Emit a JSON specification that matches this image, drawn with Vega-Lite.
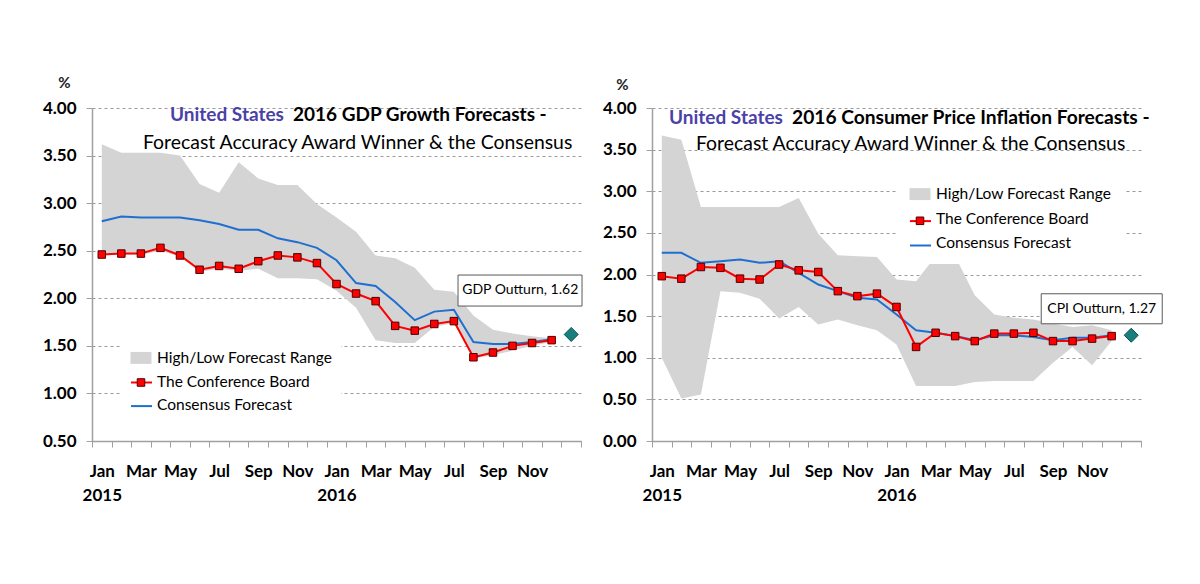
{
  "$schema": "https://vega.github.io/schema/vega-lite/v6.json",
  "background": "white",
  "padding": {"left": 42, "top": 75, "right": 0, "bottom": 0},
  "autosize": {"type": "pad"},
  "spacing": 17,
  "resolve": {"scale": {"fill": "independent", "stroke": "independent", "color": "independent"}},
  "config": {
    "view": {"stroke": null},
    "font": "Lato",
    "title": {"font": "Lato", "anchor": "start", "frame": "group", "offset": 0, "baseline": "middle", "color": "#000000"}
  },
  "datasets": {
    "gdp": [
      {"m": "2015-01", "tcb": 2.46, "cons": 2.81, "hi": 3.62, "lo": 2.45},
      {"m": "2015-02", "tcb": 2.47, "cons": 2.86, "hi": 3.53, "lo": 2.46},
      {"m": "2015-03", "tcb": 2.47, "cons": 2.85, "hi": 3.53, "lo": 2.46},
      {"m": "2015-04", "tcb": 2.53, "cons": 2.85, "hi": 3.53, "lo": 2.50},
      {"m": "2015-05", "tcb": 2.45, "cons": 2.85, "hi": 3.50, "lo": 2.44},
      {"m": "2015-06", "tcb": 2.30, "cons": 2.82, "hi": 3.20, "lo": 2.28},
      {"m": "2015-07", "tcb": 2.34, "cons": 2.78, "hi": 3.11, "lo": 2.31},
      {"m": "2015-08", "tcb": 2.31, "cons": 2.72, "hi": 3.43, "lo": 2.29},
      {"m": "2015-09", "tcb": 2.39, "cons": 2.72, "hi": 3.26, "lo": 2.31},
      {"m": "2015-10", "tcb": 2.45, "cons": 2.63, "hi": 3.19, "lo": 2.21},
      {"m": "2015-11", "tcb": 2.43, "cons": 2.59, "hi": 3.19, "lo": 2.21},
      {"m": "2015-12", "tcb": 2.37, "cons": 2.53, "hi": 2.99, "lo": 2.20},
      {"m": "2016-01", "tcb": 2.15, "cons": 2.40, "hi": 2.85, "lo": 2.08},
      {"m": "2016-02", "tcb": 2.05, "cons": 2.16, "hi": 2.70, "lo": 1.90},
      {"m": "2016-03", "tcb": 1.97, "cons": 2.13, "hi": 2.45, "lo": 1.56},
      {"m": "2016-04", "tcb": 1.71, "cons": 1.96, "hi": 2.42, "lo": 1.53},
      {"m": "2016-05", "tcb": 1.66, "cons": 1.77, "hi": 2.32, "lo": 1.53},
      {"m": "2016-06", "tcb": 1.73, "cons": 1.86, "hi": 2.09, "lo": 1.70},
      {"m": "2016-07", "tcb": 1.76, "cons": 1.88, "hi": 2.07, "lo": 1.74},
      {"m": "2016-08", "tcb": 1.38, "cons": 1.54, "hi": 1.82, "lo": 1.37},
      {"m": "2016-09", "tcb": 1.43, "cons": 1.52, "hi": 1.67, "lo": 1.40},
      {"m": "2016-10", "tcb": 1.50, "cons": 1.52, "hi": 1.63, "lo": 1.45},
      {"m": "2016-11", "tcb": 1.53, "cons": 1.54, "hi": 1.60, "lo": 1.50},
      {"m": "2016-12", "tcb": 1.56, "cons": 1.57, "hi": 1.58, "lo": 1.54}
    ],
    "gdpOut": [{"m": "Outturn", "v": 1.62, "label": "GDP Outturn, 1.62"}],
    "cpi": [
      {"m": "2015-01", "tcb": 1.98, "cons": 2.26, "hi": 3.67, "lo": 1.00},
      {"m": "2015-02", "tcb": 1.95, "cons": 2.26, "hi": 3.62, "lo": 0.51},
      {"m": "2015-03", "tcb": 2.09, "cons": 2.14, "hi": 2.81, "lo": 0.56},
      {"m": "2015-04", "tcb": 2.08, "cons": 2.16, "hi": 2.81, "lo": 1.80},
      {"m": "2015-05", "tcb": 1.95, "cons": 2.18, "hi": 2.81, "lo": 1.78},
      {"m": "2015-06", "tcb": 1.94, "cons": 2.14, "hi": 2.81, "lo": 1.71},
      {"m": "2015-07", "tcb": 2.12, "cons": 2.16, "hi": 2.81, "lo": 1.47},
      {"m": "2015-08", "tcb": 2.05, "cons": 2.02, "hi": 2.92, "lo": 1.61},
      {"m": "2015-09", "tcb": 2.03, "cons": 1.88, "hi": 2.49, "lo": 1.40},
      {"m": "2015-10", "tcb": 1.80, "cons": 1.80, "hi": 2.23, "lo": 1.46},
      {"m": "2015-11", "tcb": 1.74, "cons": 1.72, "hi": 2.22, "lo": 1.39},
      {"m": "2015-12", "tcb": 1.77, "cons": 1.70, "hi": 2.21, "lo": 1.33},
      {"m": "2016-01", "tcb": 1.61, "cons": 1.52, "hi": 1.94, "lo": 1.16},
      {"m": "2016-02", "tcb": 1.13, "cons": 1.33, "hi": 1.92, "lo": 0.66},
      {"m": "2016-03", "tcb": 1.30, "cons": 1.30, "hi": 2.22, "lo": 0.66},
      {"m": "2016-04", "tcb": 1.26, "cons": 1.26, "hi": 2.22, "lo": 0.66},
      {"m": "2016-05", "tcb": 1.20, "cons": 1.21, "hi": 1.75, "lo": 0.71},
      {"m": "2016-06", "tcb": 1.29, "cons": 1.27, "hi": 1.52, "lo": 0.72},
      {"m": "2016-07", "tcb": 1.29, "cons": 1.27, "hi": 1.48, "lo": 0.72},
      {"m": "2016-08", "tcb": 1.30, "cons": 1.25, "hi": 1.46, "lo": 0.72},
      {"m": "2016-09", "tcb": 1.20, "cons": 1.21, "hi": 1.41, "lo": 0.94},
      {"m": "2016-10", "tcb": 1.20, "cons": 1.24, "hi": 1.37, "lo": 1.13},
      {"m": "2016-11", "tcb": 1.23, "cons": 1.24, "hi": 1.39, "lo": 0.91},
      {"m": "2016-12", "tcb": 1.26, "cons": 1.27, "hi": 1.33, "lo": 1.20}
    ],
    "cpiOut": [{"m": "Outturn", "v": 1.27, "label": "CPI Outturn, 1.27"}]
  },
  "hconcat": [
    {
      "title": {"text": "United States", "color": "#4a41a8", "fontSize": 19, "fontWeight": "bold", "dx": 78, "dy": 54},
      "resolve": {"scale": {"fill": "independent", "stroke": "independent", "color": "independent"}},
      "vconcat": [{
        "title": {"text": "2016 GDP Growth Forecasts -", "fontSize": 19, "fontWeight": "bold", "dx": 201, "dy": 54},
        "resolve": {"scale": {"fill": "independent", "stroke": "independent", "color": "independent"}},
        "vconcat": [{
          "title": {"text": "Forecast Accuracy Award Winner & the Consensus", "fontSize": 19.4, "fontWeight": "normal", "dx": 51, "dy": 82},
          "width": 489,
          "height": 333,
          "layer": [
            {
              "data": {"name": "gdp"},
              "mark": {"type": "area", "opacity": 1, "fillOpacity": 1},
              "encoding": {
                "x": {"field": "m", "type": "ordinal",
                  "scale": {"type": "band", "paddingInner": 0, "paddingOuter": 0, "domain": ["2015-01","2015-02","2015-03","2015-04","2015-05","2015-06","2015-07","2015-08","2015-09","2015-10","2015-11","2015-12","2016-01","2016-02","2016-03","2016-04","2016-05","2016-06","2016-07","2016-08","2016-09","2016-10","2016-11","2016-12","Outturn"]},
                  "axis": {"title": null, "tickBand": "extent", "domainColor": "#a0a0a0", "domainWidth": 1.5, "tickColor": "#a0a0a0", "tickSize": 6, "tickWidth": 1, "labelFont": "Lato", "labelFontSize": 17, "labelFontWeight": "bold", "labelColor": "#000000", "labelPadding": 16, "labelAngle": 0, "labelLineHeight": 24, "labelBaseline": "top", "labelOverlap": false, "labelBound": false,
                    "labelExpr": "substring(datum.value,5,7)=='01' ? ['Jan', substring(datum.value,0,4)] : substring(datum.value,5,7)=='03' ? 'Mar' : substring(datum.value,5,7)=='05' ? 'May' : substring(datum.value,5,7)=='07' ? 'Jul' : substring(datum.value,5,7)=='09' ? 'Sep' : substring(datum.value,5,7)=='11' ? 'Nov' : ''"}},
                "y": {"field": "hi", "type": "quantitative",
                  "scale": {"domain": [0.5, 4], "nice": false, "zero": false},
                  "axis": {"title": "%", "titleAngle": 0, "titleX": -28, "titleY": -26, "titleFont": "Lato", "titleFontSize": 15, "titleFontWeight": "bold", "titleColor": "#222222", "titleAlign": "center", "titleBaseline": "middle",
                    "values": [0.5, 1, 1.5, 2, 2.5, 3, 3.5, 4], "format": ".2f", "labelFont": "Lato", "labelFontSize": 17, "labelFontWeight": "bold", "labelColor": "#000000", "labelPadding": 10, "tickSize": 6, "tickColor": "#a0a0a0", "domainColor": "#a0a0a0", "domainWidth": 1.5, "grid": true, "gridColor": "#9a9a9a", "gridDash": [3, 3], "gridWidth": 1}},
                "y2": {"field": "lo"},
                "fill": {"datum": "High/Low Forecast Range", "type": "nominal",
                  "scale": {"domain": ["High/Low Forecast Range", "The Conference Board", "Consensus Forecast"], "range": ["#d4d4d4", "transparent", "transparent"]},
                  "legend": {"orient": "none", "legendX": 30, "legendY": 230.9, "title": null, "padding": 8, "fillColor": "white", "symbolType": "M-1,-0.57H1V0.57H-1Z", "symbolSize": 441, "symbolStrokeWidth": 1, "symbolStrokeColor": "transparent", "labelFont": "Lato", "labelFontSize": 15.5, "labelColor": "#000000", "labelOffset": 5, "labelLimit": 400, "rowPadding": 3.6}}
              }
            },
            {
              "data": {"name": "gdp"},
              "mark": {"type": "line", "strokeWidth": 2},
              "encoding": {
                "x": {"field": "m", "type": "ordinal"},
                "y": {"field": "cons", "type": "quantitative"},
                "stroke": {"datum": "Consensus Forecast", "type": "nominal",
                  "scale": {"domain": ["The Conference Board", "Consensus Forecast"], "range": ["#ff0000", "#1f6fd0"]},
                  "legend": {"orient": "none", "legendX": 30, "legendY": 255, "title": null, "padding": 8, "symbolSize": 441, "symbolType": "stroke", "symbolStrokeWidth": 2, "labelFont": "Lato", "labelFontSize": 15.5, "labelExpr": "''", "labelOffset": 5, "rowPadding": 3.6}}
              }
            },
            {
              "data": {"name": "gdp"},
              "mark": {"type": "line", "strokeWidth": 2},
              "encoding": {
                "x": {"field": "m", "type": "ordinal"},
                "y": {"field": "tcb", "type": "quantitative"},
                "stroke": {"datum": "The Conference Board", "type": "nominal"}
              }
            },
            {
              "data": {"name": "gdp"},
              "mark": {"type": "point", "shape": "square", "filled": true, "stroke": "#4d0000", "strokeWidth": 1, "size": 56, "opacity": 1},
              "encoding": {
                "x": {"field": "m", "type": "ordinal"},
                "y": {"field": "tcb", "type": "quantitative"},
                "color": {"datum": "The Conference Board", "type": "nominal",
                  "scale": {"domain": ["The Conference Board"], "range": ["#ff0000"]},
                  "legend": {"orient": "none", "legendX": 30, "legendY": 255.5, "title": null, "padding": 8, "symbolType": "M-0.36,-0.36H0.36V0.36H-0.36Z", "symbolSize": 441, "symbolStrokeWidth": 1, "symbolStrokeColor": "#4d0000", "symbolFillColor": "#ff0000", "symbolOpacity": 1, "labelFont": "Lato", "labelFontSize": 15.5, "labelExpr": "''", "labelOffset": 5}}
              }
            },
            {
              "data": {"name": "gdpOut"},
              "mark": {"type": "point", "shape": "M-1.132,-0.594H0.108V-0.284H-1.132Z", "size": 40000, "filled": true, "fill": "white", "stroke": "#595959", "strokeWidth": 1, "opacity": 1},
              "encoding": {
                "x": {"field": "m", "type": "ordinal"},
                "y": {"field": "v", "type": "quantitative"}
              }
            },
            {
              "data": {"name": "gdpOut"},
              "mark": {"type": "text", "dx": -51, "dy": -44, "font": "Lato", "fontSize": 14, "color": "#000000", "align": "center", "baseline": "middle"},
              "encoding": {
                "x": {"field": "m", "type": "ordinal"},
                "y": {"field": "v", "type": "quantitative"},
                "text": {"field": "label"}
              }
            },
            {
              "data": {"name": "gdpOut"},
              "mark": {"type": "point", "shape": "diamond", "size": 196, "filled": true, "fill": "#17807e", "stroke": "#0b4f4e", "strokeWidth": 1, "opacity": 1},
              "encoding": {
                "x": {"field": "m", "type": "ordinal"},
                "y": {"field": "v", "type": "quantitative"}
              }
            }
          ]
        }]
      }]
    },
    {
      "title": {"text": "United States", "color": "#4a41a8", "fontSize": 19, "fontWeight": "bold", "dx": 17, "dy": 55},
      "resolve": {"scale": {"fill": "independent", "stroke": "independent", "color": "independent"}},
      "vconcat": [{
        "title": {"text": "2016 Consumer Price Inflation Forecasts -", "fontSize": 19.2, "fontWeight": "bold", "dx": 140, "dy": 55},
        "resolve": {"scale": {"fill": "independent", "stroke": "independent", "color": "independent"}},
        "vconcat": [{
          "title": {"text": "Forecast Accuracy Award Winner & the Consensus", "fontSize": 19.4, "fontWeight": "normal", "dx": 44, "dy": 81},
          "width": 489,
          "height": 333,
          "layer": [
            {
              "data": {"name": "cpi"},
              "mark": {"type": "area", "opacity": 1, "fillOpacity": 1},
              "encoding": {
                "x": {"field": "m", "type": "ordinal",
                  "scale": {"type": "band", "paddingInner": 0, "paddingOuter": 0, "domain": ["2015-01","2015-02","2015-03","2015-04","2015-05","2015-06","2015-07","2015-08","2015-09","2015-10","2015-11","2015-12","2016-01","2016-02","2016-03","2016-04","2016-05","2016-06","2016-07","2016-08","2016-09","2016-10","2016-11","2016-12","Outturn"]},
                  "axis": {"title": null, "tickBand": "extent", "domainColor": "#a0a0a0", "domainWidth": 1.5, "tickColor": "#a0a0a0", "tickSize": 6, "tickWidth": 1, "labelFont": "Lato", "labelFontSize": 17, "labelFontWeight": "bold", "labelColor": "#000000", "labelPadding": 16, "labelAngle": 0, "labelLineHeight": 24, "labelBaseline": "top", "labelOverlap": false, "labelBound": false,
                    "labelExpr": "substring(datum.value,5,7)=='01' ? ['Jan', substring(datum.value,0,4)] : substring(datum.value,5,7)=='03' ? 'Mar' : substring(datum.value,5,7)=='05' ? 'May' : substring(datum.value,5,7)=='07' ? 'Jul' : substring(datum.value,5,7)=='09' ? 'Sep' : substring(datum.value,5,7)=='11' ? 'Nov' : ''"}},
                "y": {"field": "hi", "type": "quantitative",
                  "scale": {"domain": [0, 4], "nice": false},
                  "axis": {"title": "%", "titleAngle": 0, "titleX": -30, "titleY": -24, "titleFont": "Lato", "titleFontSize": 15, "titleFontWeight": "bold", "titleColor": "#222222", "titleAlign": "center", "titleBaseline": "middle",
                    "values": [0, 0.5, 1, 1.5, 2, 2.5, 3, 3.5, 4], "format": ".2f", "labelFont": "Lato", "labelFontSize": 17, "labelFontWeight": "bold", "labelColor": "#000000", "labelPadding": 10, "tickSize": 6, "tickColor": "#a0a0a0", "domainColor": "#a0a0a0", "domainWidth": 1.5, "grid": true, "gridColor": "#9a9a9a", "gridDash": [3, 3], "gridWidth": 1}},
                "y2": {"field": "lo"},
                "fill": {"datum": "High/Low Forecast Range", "type": "nominal",
                  "scale": {"domain": ["High/Low Forecast Range", "The Conference Board", "Consensus Forecast"], "range": ["#d4d4d4", "transparent", "transparent"]},
                  "legend": {"orient": "none", "legendX": 245, "legendY": 63.1, "title": null, "padding": 12, "fillColor": "white", "symbolType": "M-1,-0.57H1V0.57H-1Z", "symbolSize": 441, "symbolStrokeWidth": 1, "symbolStrokeColor": "transparent", "labelFont": "Lato", "labelFontSize": 15.5, "labelColor": "#000000", "labelOffset": 5, "labelLimit": 400, "rowPadding": 4.5}}
              }
            },
            {
              "data": {"name": "cpi"},
              "mark": {"type": "line", "strokeWidth": 2},
              "encoding": {
                "x": {"field": "m", "type": "ordinal"},
                "y": {"field": "cons", "type": "quantitative"},
                "stroke": {"datum": "Consensus Forecast", "type": "nominal",
                  "scale": {"domain": ["The Conference Board", "Consensus Forecast"], "range": ["#ff0000", "#1f6fd0"]},
                  "legend": {"orient": "none", "legendX": 245, "legendY": 89.6, "title": null, "padding": 12, "symbolSize": 441, "symbolType": "stroke", "symbolStrokeWidth": 2, "labelFont": "Lato", "labelFontSize": 15.5, "labelExpr": "''", "labelOffset": 5, "rowPadding": 4.4}}
              }
            },
            {
              "data": {"name": "cpi"},
              "mark": {"type": "line", "strokeWidth": 2},
              "encoding": {
                "x": {"field": "m", "type": "ordinal"},
                "y": {"field": "tcb", "type": "quantitative"},
                "stroke": {"datum": "The Conference Board", "type": "nominal"}
              }
            },
            {
              "data": {"name": "cpi"},
              "mark": {"type": "point", "shape": "square", "filled": true, "stroke": "#4d0000", "strokeWidth": 1, "size": 56, "opacity": 1},
              "encoding": {
                "x": {"field": "m", "type": "ordinal"},
                "y": {"field": "tcb", "type": "quantitative"},
                "color": {"datum": "The Conference Board", "type": "nominal",
                  "scale": {"domain": ["The Conference Board"], "range": ["#ff0000"]},
                  "legend": {"orient": "none", "legendX": 245, "legendY": 89.8, "title": null, "padding": 12, "symbolType": "M-0.36,-0.36H0.36V0.36H-0.36Z", "symbolSize": 441, "symbolStrokeWidth": 1, "symbolStrokeColor": "#4d0000", "symbolFillColor": "#ff0000", "symbolOpacity": 1, "labelFont": "Lato", "labelFontSize": 15.5, "labelExpr": "''", "labelOffset": 5}}
              }
            },
            {
              "data": {"name": "cpiOut"},
              "mark": {"type": "point", "shape": "M-0.90,-0.415H0.31V-0.115H-0.90Z", "size": 40000, "filled": true, "fill": "white", "stroke": "#595959", "strokeWidth": 1, "opacity": 1},
              "encoding": {
                "x": {"field": "m", "type": "ordinal"},
                "y": {"field": "v", "type": "quantitative"}
              }
            },
            {
              "data": {"name": "cpiOut"},
              "mark": {"type": "text", "dx": -29.5, "dy": -26.5, "font": "Lato", "fontSize": 14, "color": "#000000", "align": "center", "baseline": "middle"},
              "encoding": {
                "x": {"field": "m", "type": "ordinal"},
                "y": {"field": "v", "type": "quantitative"},
                "text": {"field": "label"}
              }
            },
            {
              "data": {"name": "cpiOut"},
              "mark": {"type": "point", "shape": "diamond", "size": 196, "filled": true, "fill": "#17807e", "stroke": "#0b4f4e", "strokeWidth": 1, "opacity": 1},
              "encoding": {
                "x": {"field": "m", "type": "ordinal"},
                "y": {"field": "v", "type": "quantitative"}
              }
            }
          ]
        }]
      }]
    }
  ]
}
